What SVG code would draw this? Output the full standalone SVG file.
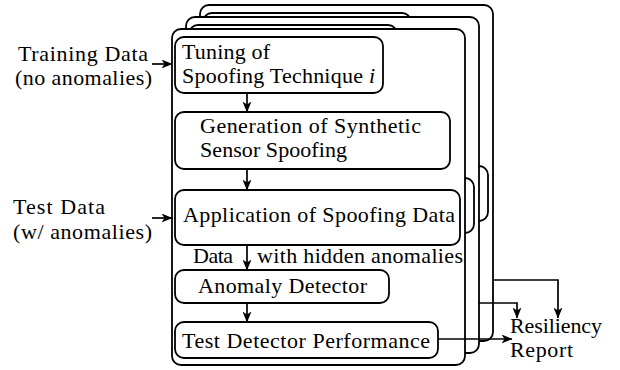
<svg xmlns="http://www.w3.org/2000/svg" width="620" height="370" viewBox="0 0 620 370">
<defs>
<style>
.panel{fill:#fff;stroke:#000;stroke-width:1.8}
.node{fill:#fff;stroke:#000;stroke-width:1.8}
.edge{fill:none;stroke:#000;stroke-width:1.7}
</style>
<marker id="ah" viewBox="0 0 11 9" refX="10.5" refY="4.5" markerWidth="11" markerHeight="9" markerUnits="userSpaceOnUse" orient="auto">
<path d="M0,0 L11,4.5 L0,9 L3,4.5 Z" fill="#000"/>
</marker>
</defs>
<rect width="620" height="370" fill="#fff"/>

<g id="panel-back" transform="translate(200,5)">
<rect class="panel" x="0" y="0" width="293" height="336" rx="9"/>
<rect class="node" x="3" y="8" width="208" height="56" rx="9"/>
<rect class="node" x="3" y="83" width="275" height="57" rx="9"/>
<rect class="node" x="3" y="161" width="285" height="55" rx="9"/>
<rect class="node" x="3" y="241" width="214" height="33" rx="9"/>
<rect class="node" x="3" y="293" width="263" height="36" rx="9"/>
</g>

<g id="panel-middle" transform="translate(186,17)">
<rect class="panel" x="0" y="0" width="293" height="336" rx="9"/>
<rect class="node" x="3" y="8" width="208" height="56" rx="9"/>
<rect class="node" x="3" y="83" width="275" height="57" rx="9"/>
<rect class="node" x="3" y="161" width="285" height="55" rx="9"/>
<rect class="node" x="3" y="241" width="214" height="33" rx="9"/>
<rect class="node" x="3" y="293" width="263" height="36" rx="9"/>
</g>

<g id="panel-front">
<rect class="panel" x="172" y="29" width="293" height="336" rx="9"/>
</g>

<g font-family="Liberation Serif, serif" font-size="22" fill="#000">
<g id="tuning">
<rect class="node" x="175" y="37" width="208" height="56" rx="9"/>
<text x="182" y="59" textLength="88">Tuning of</text>
<text x="182" y="83" textLength="193">Spoofing Technique <tspan font-style="italic">i</tspan></text>
</g>

<g id="generation">
<rect class="node" x="175" y="112" width="275" height="57" rx="9"/>
<text x="200" y="133" textLength="221">Generation of Synthetic</text>
<text x="200" y="157" textLength="147">Sensor Spoofing</text>
</g>

<g id="application">
<rect class="node" x="175" y="190" width="285" height="55" rx="9"/>
<text x="183" y="222" textLength="272">Application of Spoofing Data</text>
</g>

<g id="anomaly-detector">
<rect class="node" x="175" y="270" width="214" height="33" rx="9"/>
<text x="198" y="293" textLength="169">Anomaly Detector</text>
</g>

<g id="test-performance">
<rect class="node" x="175" y="322" width="263" height="36" rx="9"/>
<text x="182" y="348" textLength="248">Test Detector Performance</text>
</g>

<g id="training-data">
<text x="18" y="61" textLength="130">Training Data</text>
<text x="15" y="85" textLength="137">(no anomalies)</text>
</g>

<g id="test-data">
<text x="13" y="214" textLength="92">Test Data</text>
<text x="13" y="239" textLength="139">(w/ anomalies)</text>
</g>

<g id="resiliency-report">
<text x="510" y="333" textLength="92">Resiliency</text>
<text x="510" y="357" textLength="63">Report</text>
</g>

<g id="connectors">
<line class="edge" x1="152" y1="64" x2="172" y2="64" marker-end="url(#ah)"/>
<line class="edge" x1="152" y1="218" x2="172" y2="218" marker-end="url(#ah)"/>
<line class="edge" x1="247" y1="93" x2="247" y2="112" marker-end="url(#ah)"/>
<line class="edge" x1="247" y1="169" x2="247" y2="190" marker-end="url(#ah)"/>
<line class="edge" x1="247" y1="245" x2="247" y2="270" marker-end="url(#ah)"/>
<line class="edge" x1="247" y1="303" x2="247" y2="322" marker-end="url(#ah)"/>
<line class="edge" x1="438" y1="339" x2="512" y2="339" marker-end="url(#ah)"/>
<polyline class="edge" points="479,303 517,303 517,318" marker-end="url(#ah)"/>
<polyline class="edge" points="493,280 558,280 558,318" marker-end="url(#ah)"/>
</g>

<g id="edge-label">
<text x="193" y="263" textLength="40">Data</text>
<text x="257" y="263" textLength="206">with hidden anomalies</text>
</g>
</g>
</svg>
